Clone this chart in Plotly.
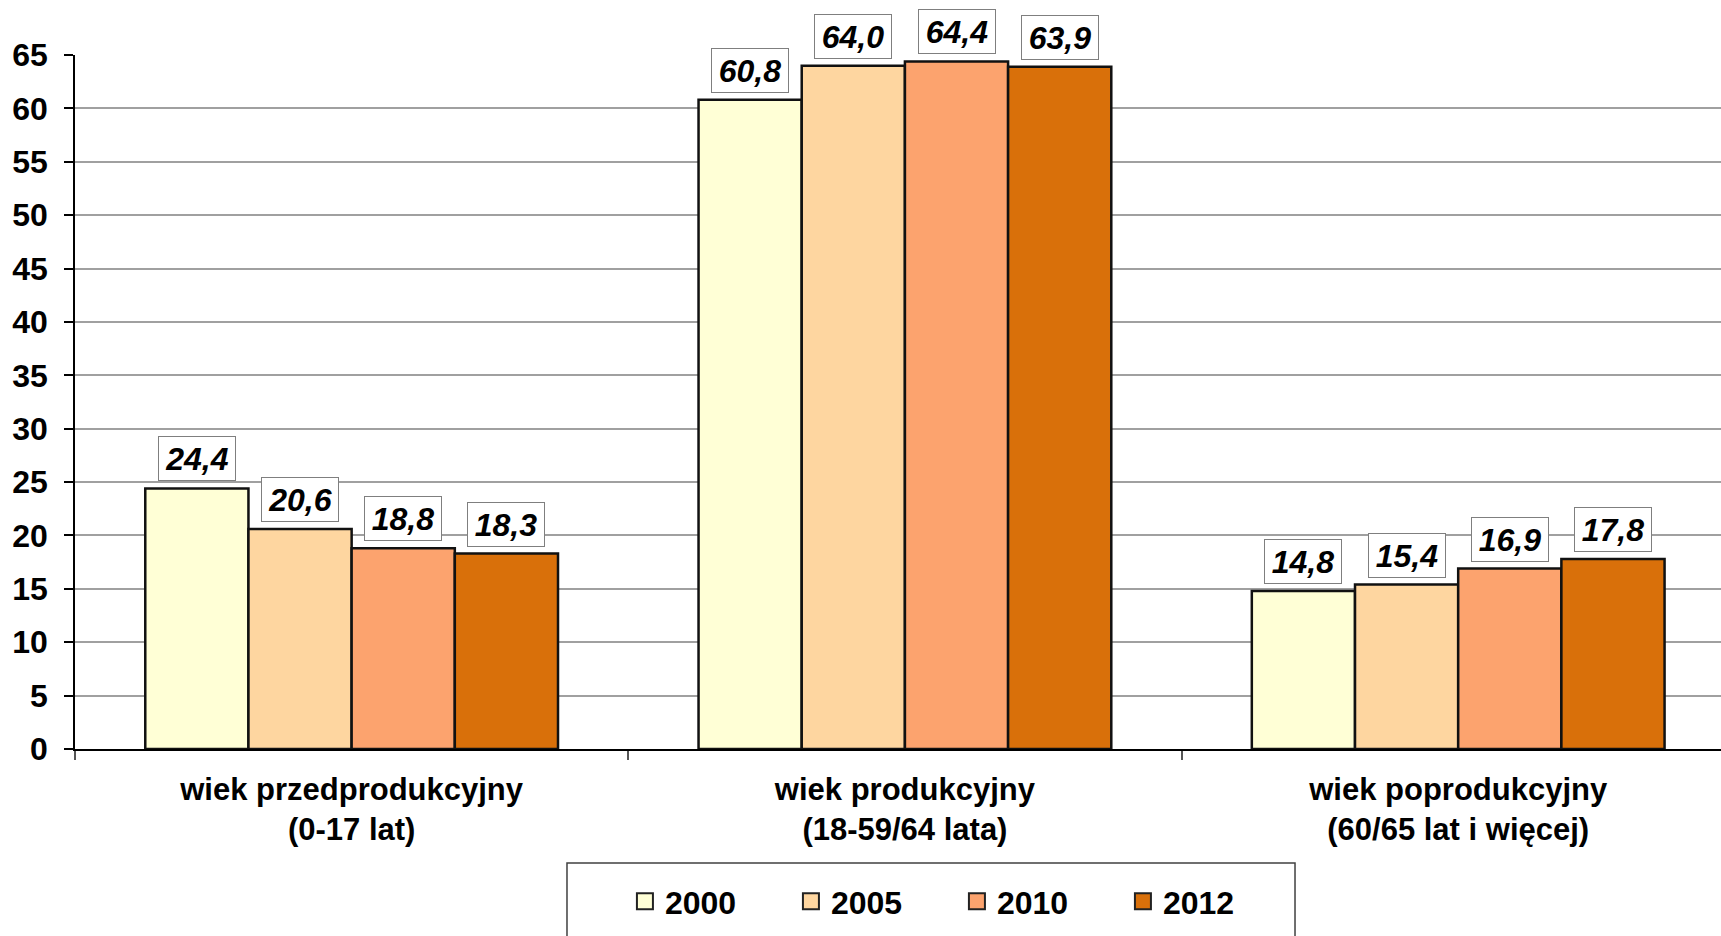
import plotly.graph_objects as go

categories = ["wiek przedprodukcyjny<br>(0-17 lat)",
              "wiek produkcyjny<br>(18-59/64 lata)",
              "wiek poprodukcyjny<br>(60/65 lat i więcej)"]
years = ["2000", "2005", "2010", "2012"]
values = {
    "2000": [24.4, 60.8, 14.8],
    "2005": [20.6, 64.0, 15.4],
    "2010": [18.8, 64.4, 16.9],
    "2012": [18.3, 63.9, 17.8],
}
colors = {"2000": "#FFFFD6", "2005": "#FED6A0", "2010": "#FCA36E", "2012": "#D9700A"}
y_ticks = list(range(0, 70, 5))

FONT = "Liberation Sans, Arial, sans-serif"
BARGAP = 0.254
n = len(years)
bw = (1 - BARGAP) / n

fig = go.Figure()
for y in years:
    fig.add_trace(go.Bar(
        x=categories, y=values[y], name=y, showlegend=False,
        marker=dict(color=colors[y], line=dict(color="#111111", width=2.5)),
    ))
# legend proxies
for y in years:
    fig.add_trace(go.Scatter(
        x=[None], y=[None], mode="markers", name=y,
        marker=dict(symbol="square", size=16, color=colors[y],
                    line=dict(color="#222222", width=2)),
    ))

annotations = []
for j, y in enumerate(years):
    for i, v in enumerate(values[y]):
        annotations.append(dict(
            x=i + (j - (n - 1) / 2) * bw, y=v, xref="x", yref="y",
            text="<b><i>" + f"{v:.1f}".replace(".", ",") + "</i></b>",
            showarrow=False, yanchor="bottom", yshift=7,
            font=dict(family=FONT, size=32, color="black"),
            bgcolor="white", bordercolor="#7f7f7f", borderwidth=1,
            borderpad=4, width=68, height=35,
        ))

fig.update_layout(
    width=1721, height=936, autosize=False,
    margin=dict(l=75, r=0, t=55, b=187),
    plot_bgcolor="white", paper_bgcolor="white",
    barmode="group", bargap=BARGAP, bargroupgap=0,
    font=dict(family=FONT, color="black"),
    annotations=annotations,
    showlegend=True,
    legend=dict(orientation="h", x=0.3341, y=-0.1801, xanchor="left", yanchor="top",
                font=dict(family=FONT, size=32, weight="bold"),
                entrywidth=121, bgcolor="rgba(0,0,0,0)", borderwidth=0),
    shapes=[dict(type="rect", xref="paper", yref="paper",
                 x0=0.2989, x1=0.7412, y0=-0.1643, y1=-0.30,
                 line=dict(color="#404040", width=1.5), fillcolor="rgba(0,0,0,0)",
                 layer="below")],
)
fig.update_xaxes(
    type="category", range=[-0.5, 2.475],
    showline=True, linecolor="black", linewidth=1.5,
    ticks="outside", tickson="boundaries", ticklen=9, tickcolor="#555555", tickwidth=1.5,
    tickfont=dict(family=FONT, size=31, weight="bold"),
    ticklabelstandoff=12,
    showgrid=False, zeroline=False,
)
fig.update_yaxes(
    range=[0, 65], tickvals=y_ticks,
    showline=True, linecolor="black", linewidth=1.5,
    ticks="outside", ticklen=9, tickcolor="black", tickwidth=1.5,
    tickfont=dict(family=FONT, size=32, weight="bold"),
    ticklabelstandoff=10,
    showgrid=True, gridcolor="#a0a0a0", gridwidth=1.5, zeroline=False,
)

fig.write_html("out.html", config={"displayModeBar": False},
               post_script="document.body.style.margin='0';document.body.style.overflow='hidden';")
